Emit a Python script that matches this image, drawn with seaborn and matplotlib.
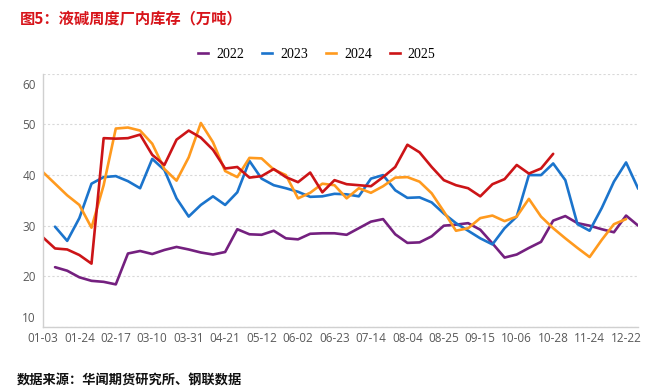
import matplotlib
matplotlib.use('Agg')
import matplotlib.pyplot as plt
import matplotlib.transforms as mtransforms
import numpy as np
import pandas as pd
import seaborn as sns

# week categories (label shown every 3rd week)
tick_labels = ['01-03', '01-24', '02-17', '03-10', '03-31', '04-21', '05-12', '06-02', '06-23',
               '07-14', '08-04', '08-25', '09-15', '10-06', '10-28', '11-24', '12-22']
n_weeks = 50
nan = np.nan

# weekly inventory, 10k tonnes
y2022 = [nan, 21.8, 21.1, 19.8, 19.1, 18.9, 18.4, 24.5, 25.0, 24.4,
         25.2, 25.8, 25.3, 24.7, 24.3, 24.8, 29.3, 28.3, 28.2, 29.0,
         27.5, 27.3, 28.4, 28.5, 28.5, 28.2, 29.5, 30.8, 31.3, 28.3,
         26.6, 26.7, 27.9, 30.0, 30.2, 30.5, 29.2, 26.5, 23.7, 24.3,
         25.6, 26.8, 31.0, 31.9, 30.5, 30.0, 29.3, 28.7, 32.0, 30.0]
y2023 = [nan, 29.8, 27.0, 31.5, 38.3, 39.6, 39.8, 38.8, 37.4, 43.2,
         41.0, 35.4, 31.8, 34.1, 35.8, 34.1, 36.6, 42.8, 39.3, 38.0,
         37.4, 36.7, 35.7, 35.8, 36.3, 36.2, 35.8, 39.3, 40.0, 37.0,
         35.5, 35.6, 34.6, 32.4, 30.5, 29.0, 27.5, 26.3, 29.5, 31.8,
         40.0, 40.0, 42.3, 39.0, 30.3, 29.0, 33.5, 38.7, 42.5, 37.3]
y2024 = [40.6, 38.3, 36.0, 34.1, 29.6, 38.0, 49.2, 49.4, 48.8, 46.2,
         41.2, 38.9, 43.5, 50.3, 46.5, 40.8, 39.6, 43.4, 43.3, 41.1,
         40.0, 35.4, 36.5, 38.3, 38.0, 35.4, 37.4, 36.5, 37.8, 39.5,
         39.6, 38.7, 36.4, 32.8, 29.0, 29.5, 31.5, 32.0, 30.9, 31.8,
         35.3, 31.8, 29.5, 27.5, 25.6, 23.8, 27.2, 30.3, 31.3, nan]
y2025 = [27.7, 25.5, 25.3, 24.2, 22.5, 47.3, 47.2, 47.3, 48.0, 44.0,
         42.0, 47.0, 48.8, 47.4, 45.0, 41.3, 41.6, 39.5, 39.8, 41.2,
         39.6, 38.6, 40.5, 36.6, 39.0, 38.2, 38.0, 37.8, 39.6, 41.6,
         46.0, 44.5, 41.6, 39.0, 38.0, 37.4, 35.8, 38.2, 39.2, 42.0,
         40.3, 41.3, 44.2, nan, nan, nan, nan, nan, nan, nan]

years = ['2022', '2023', '2024', '2025']
colors = ['#74207F', '#1B74CC', '#FF9A1E', '#CC1417']

frames = []
for yr, vals in zip(years, [y2022, y2023, y2024, y2025]):
    frames.append(pd.DataFrame({'week': np.arange(n_weeks), 'value': vals, 'year': yr}))
df = pd.concat(frames, ignore_index=True).dropna()

fig = plt.figure(figsize=(6.6, 3.91), dpi=100)
ax = fig.add_axes([0.065, 0.164, 0.902, 0.647])

sns.lineplot(data=df, x='week', y='value', hue='year', palette=colors,
             estimator=None, sort=False, linewidth=1.9, ax=ax, legend=False)
for ln in ax.get_lines():
    ln.set_solid_joinstyle('round')
    ln.set_solid_capstyle('round')

ax.set_xlim(0, n_weeks - 1)
ax.set_ylim(10, 60)
ax.set_xticks(np.arange(0, n_weeks, 3))
ax.set_xticklabels(tick_labels)
ax.set_yticks([10, 20, 30, 40, 50, 60])
ax.set_xlabel('')
ax.set_ylabel('')

ax.grid(axis='y', color='#D9D9D9', linestyle=(0, (2, 2)), linewidth=0.8)
ax.grid(axis='x', visible=False)
ax.set_axisbelow(True)
for s in ['top', 'right']:
    ax.spines[s].set_visible(False)
for s in ['left', 'bottom']:
    ax.spines[s].set_color('#D0D0D0')
    ax.spines[s].set_linewidth(1.0)
ax.tick_params(length=0, colors='#595959', labelsize=8.5)
ax.tick_params(axis='x', pad=4)
ax.tick_params(axis='y', pad=5)
for lab in ax.get_xticklabels() + ax.get_yticklabels():
    lab.set_family('Open Sans')

# the outer y labels sit slightly inside the range in the original
ylabs = ax.get_yticklabels()
ylabs[0].set_transform(ylabs[0].get_transform() +
                       mtransforms.ScaledTranslation(0, 0.1, fig.dpi_scale_trans))
ylabs[-1].set_transform(ylabs[-1].get_transform() +
                        mtransforms.ScaledTranslation(0, -0.1, fig.dpi_scale_trans))

handles = [plt.Line2D([], [], color=c, linewidth=1.9) for c in colors]
fig.legend(handles, years, loc='center', bbox_to_anchor=(0.48, 0.86), ncol=4,
           frameon=False, handlelength=0.7, handletextpad=0.6, columnspacing=1.3,
           prop={'family': 'Liberation Serif', 'size': 10})

fig.text(0.03, 0.954, '图5：液碱周度厂内库存（万吨）', color='#D7141A', fontsize=11,
         fontweight='bold', va='center', ha='left', family=['Noto Sans CJK SC', 'DejaVu Sans'])
fig.text(0.026, 0.028, '数据来源：华闻期货研究所、钢联数据', color='#111111', fontsize=9.5,
         fontweight='bold', va='center', ha='left', family=['Noto Sans CJK SC', 'DejaVu Sans'])

fig.savefig('out.png', dpi=100, facecolor='white')
